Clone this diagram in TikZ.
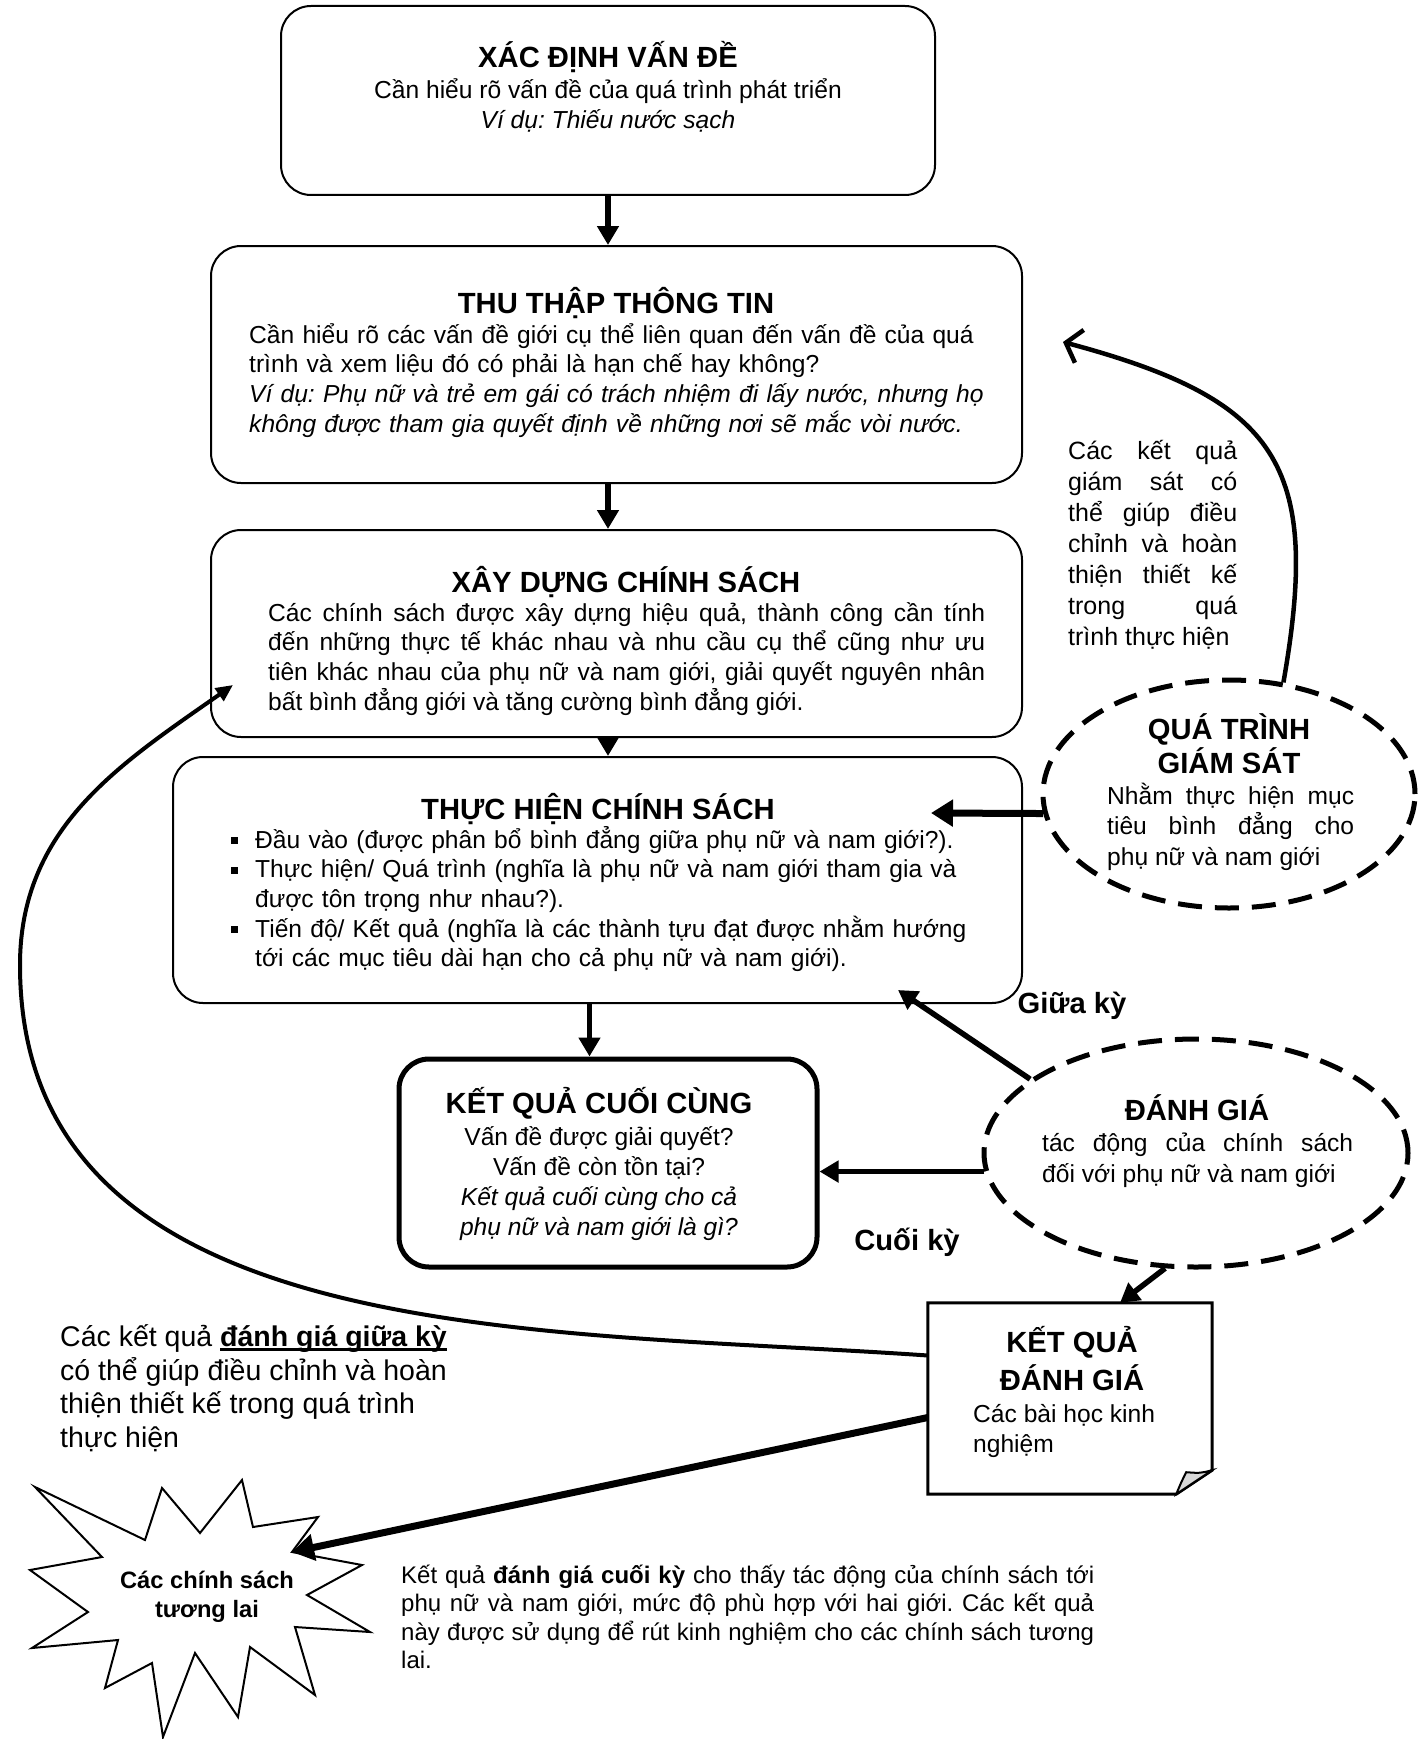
\documentclass[tikz,border=0pt]{standalone}
\usepackage{fontspec}
\setmainfont{Liberation Sans}
\usetikzlibrary{arrows.meta, calc, shapes.geometric}
\frenchspacing
\newcommand{\bodyfont}{\fontsize{24.6}{29.7}\selectfont}
\newcommand{\headfont}{\fontsize{29.2}{34}\selectfont\bfseries}
\newcommand{\sqbul}{\makebox[24pt][l]{\rule[4pt]{7pt}{7pt}}}
\newsavebox{\ulbox}
\newcommand{\ulbold}[1]{\sbox{\ulbox}{\bfseries #1}\rlap{\rule[-4pt]{\wd\ulbox}{2.5pt}}\usebox{\ulbox}}

\begin{document}
\begin{tikzpicture}[x=1pt, y=-1pt,
    box/.style={draw, line width=2pt, rounded corners=30pt},
    head/.style={font=\headfont, inner sep=0pt, anchor=base},
    txt/.style={font=\bodyfont, inner sep=0pt},
    watch/.style={draw, ellipse, line width=5pt, dash pattern=on 24pt off 13pt, inner sep=0pt},
    flow/.style={line width=5.5pt, -{Triangle[length=19pt,width=21pt]}},
    bigflow/.style={line width=7pt, -{Triangle[length=22pt,width=26pt]}},
]
    \useasboundingbox (0,0) rectangle (1427,1739);

    % main column
    \node[box, minimum width=654pt, minimum height=189pt] (problem) at (608,100.5) {};
    \node[head] (problemhead) at (608,68) {XÁC ĐỊNH VẤN ĐỀ};
    \node[txt, font=\fontsize{24.6}{30}\selectfont, align=center, anchor=base] (problemtext) at (608,129)
        {Cần hiểu rõ vấn đề của quá trình phát triển\\ \textit{Ví dụ: Thiếu nước sạch}};

    \node[box, minimum width=811pt, minimum height=237pt] (collect) at (616.5,364.5) {};
    \node[head] (collecthead) at (616,313) {THU THẬP THÔNG TIN};
    \node[txt, text width=780pt, align=left, anchor=base west] (collecttext) at (249,343)
        {Cần hiểu rõ các vấn đề giới cụ thể liên quan đến vấn đề của quá\\
         trình và xem liệu đó có phải là hạn chế hay không?\\
         \textit{Ví dụ: Phụ nữ và trẻ em gái có trách nhiệm đi lấy nước, nhưng họ}\\
         \textit{không được tham gia quyết định về những nơi sẽ mắc vòi nước.}};

    \node[box, minimum width=811pt, minimum height=207pt] (policy) at (616.5,633.5) {};
    \node[head] (policyhead) at (626,592) {XÂY DỰNG CHÍNH SÁCH};
    \node[txt, text width=717pt, align=justify, anchor=base west] (policytext) at (268,621)
        {Các chính sách được xây dựng hiệu quả, thành công cần tính\linebreak
         đến những thực tế khác nhau và nhu cầu cụ thể cũng như ưu\linebreak
         tiên khác nhau của phụ nữ và nam giới, giải quyết nguyên nhân\linebreak
         bất bình đẳng giới và tăng cường bình đẳng giới.};

    \node[box, minimum width=849pt, minimum height=246pt] (impl) at (597.5,880) {};
    \node[head] (implhead) at (598,819) {THỰC HIỆN CHÍNH SÁCH};
    \node[txt, text width=790pt, align=left, anchor=base west] (impltext) at (231,848)
        {\sqbul Đầu vào (được phân bổ bình đẳng giữa phụ nữ và nam giới?).\\
         \sqbul Thực hiện/ Quá trình (nghĩa là phụ nữ và nam giới tham gia và\\
         \hspace*{24pt}được tôn trọng như nhau?).\\
         \sqbul Tiến độ/ Kết quả (nghĩa là các thành tựu đạt được nhằm hướng\\
         \hspace*{24pt}tới các mục tiêu dài hạn cho cả phụ nữ và nam giới).};

    \node[box, line width=5pt, minimum width=418pt, minimum height=208pt] (final) at (608,1163) {};
    \node[head] (finalhead) at (599,1113) {KẾT QUẢ CUỐI CÙNG};
    \node[txt, font=\fontsize{24.6}{30}\selectfont, align=center, anchor=base] (finaltext) at (599,1235)
        {Vấn đề được giải quyết?\\ Vấn đề còn tồn tại?\\
         \textit{Kết quả cuối cùng cho cả}\\ \textit{phụ nữ và nam giới là gì?}};

    % monitoring and evaluation
    \node[watch, minimum width=372pt, minimum height=228pt] (monitor) at (1229,794) {};
    \node[head, align=center] (monitorhead) at (1229,773) {QUÁ TRÌNH\\ GIÁM SÁT};
    \node[txt, font=\fontsize{24.6}{30.5}\selectfont, text width=247pt, align=justify, anchor=base west] (monitortext) at (1107,804)
        {Nhằm thực hiện mục\linebreak tiêu bình đẳng cho\linebreak phụ nữ và nam giới};
    \node[txt, font=\fontsize{25}{31}\selectfont, text width=169pt, align=justify, anchor=base west] (monitornote) at (1068,459)
        {Các kết quả\linebreak giám sát có\linebreak thể giúp điều\linebreak chỉnh và hoàn\linebreak
         thiện thiết kế\linebreak trong quá\linebreak trình thực hiện};

    \node[watch, minimum width=424pt, minimum height=228pt] (eval) at (1196,1153) {};
    \node[head] (evalhead) at (1197,1120) {ĐÁNH GIÁ};
    \node[txt, font=\fontsize{24.6}{31}\selectfont, text width=311pt, align=justify, anchor=base west] (evaltext) at (1042,1151)
        {tác động của chính sách\linebreak đối với phụ nữ và nam giới};
    \node[head] (midterm) at (1072,1013) {Giữa kỳ};
    \node[head] (endterm) at (907,1250) {Cuối kỳ};

    % evaluation results (folded sheet)
    \node[minimum width=284pt, minimum height=191pt, inner sep=0pt] (fold) at (1070,1398.5) {};
    \draw[line width=3pt] (fold.north west) -- (fold.north east) -- ($(fold.south east)+(0,-24)$)
        -- ($(fold.south east)+(-36,0)$) -- (fold.south west) -- cycle;
    \draw[line width=2pt, fill=gray!30] ($(fold.south east)+(-36,0)$) .. controls ($(fold.south east)+(-31,-12)$) .. ($(fold.south east)+(-26,-22)$)
        .. controls ($(fold.south east)+(-12,-21)$) .. ($(fold.south east)+(0,-24)$) -- cycle;
    \node[head, font=\fontsize{29.2}{38}\selectfont\bfseries, align=center] (foldhead) at (1072,1390) {KẾT QUẢ\\ ĐÁNH GIÁ};
    \node[txt, font=\fontsize{24.6}{30}\selectfont, align=left, anchor=base west] (foldtext) at (973,1452) {Các bài học kinh\\ nghiệm};

    % notes at the bottom
    \node[txt, font=\fontsize{28.5}{33.5}\selectfont, align=left, anchor=base west] (midnote) at (60,1447)
        {Các kết quả \ulbold{đánh giá giữa kỳ}\\ có thể giúp điều chỉnh và hoàn\\
         thiện thiết kế trong quá trình\\ thực hiện};
    \node[txt, font=\fontsize{24}{28.5}\selectfont, text width=693pt, align=justify, anchor=base west] (endnote) at (401,1583)
        {Kết quả \textbf{đánh giá cuối kỳ} cho thấy tác động của chính sách tới\linebreak
         phụ nữ và nam giới, mức độ phù hợp với hai giới. Các kết quả\linebreak
         này được sử dụng để rút kinh nghiệm cho các chính sách tương\linebreak lai.};

    % future policies (starburst)
    \draw[line width=2pt] (35,1487) -- (145,1540) -- (162,1488) -- (200,1533) -- (242,1480) -- (253,1527)
        -- (318,1517) -- (292,1552) -- (362,1565) -- (307,1595) -- (370,1632) -- (295,1627) -- (315,1695)
        -- (250,1647) -- (238,1717) -- (195,1653) -- (163,1737) -- (152,1663) -- (105,1688) -- (118,1640)
        -- (32,1648) -- (88,1612) -- (30,1570) -- (102,1557) -- cycle;
    \node[font=\fontsize{23.7}{29}\selectfont\bfseries, align=center, anchor=base, inner sep=0pt] (future) at (207,1617)
        {Các chính sách\\ tương lai};
    \coordinate (bursttip) at (292,1552);

    % connectors
    \draw[flow] (problem.south) -- (problem.south |- collect.north);
    \draw[flow] (problem.south |- collect.south) -- (problem.south |- policy.north);
    \draw[flow] (problem.south |- policy.south) -- (problem.south |- impl.north);
    \coordinate (implout) at ($(impl.south)+(-8,0)$);
    \draw[flow] (implout) -- (implout |- final.north);
    \coordinate (impltip) at (931,813);
    \draw[bigflow] (monitor.186) -- (impltip);
    \coordinate (midtip) at (898,990);
    \draw[flow] (eval.156) -- (midtip);
    \draw[flow] (eval.185) -- (eval.185 -| final.east);
    \coordinate (foldin) at ($(fold.north)+(50,0)$);
    \draw[flow] (eval.255) -- (foldin);
    \draw[bigflow] ($(fold.west)+(0,19)$) -- (bursttip);
    \coordinate (leftmost) at (20,965);
    \coordinate (policyin) at (233,685);
    \draw[line width=4pt, -{Triangle[length=17pt,width=15pt]}] ($(fold.west)+(0,-43)$)
        to[out=176,in=-90] (leftmost) to[out=90,in=215] (policyin);
    \coordinate (collectin) at (1063,342);
    \draw[line width=4.5pt, -{Straight Barb[length=14pt,width=34pt]}] (monitor.64)
        to[out=80,in=-15,looseness=1.4] (collectin);
\end{tikzpicture}
\end{document}
